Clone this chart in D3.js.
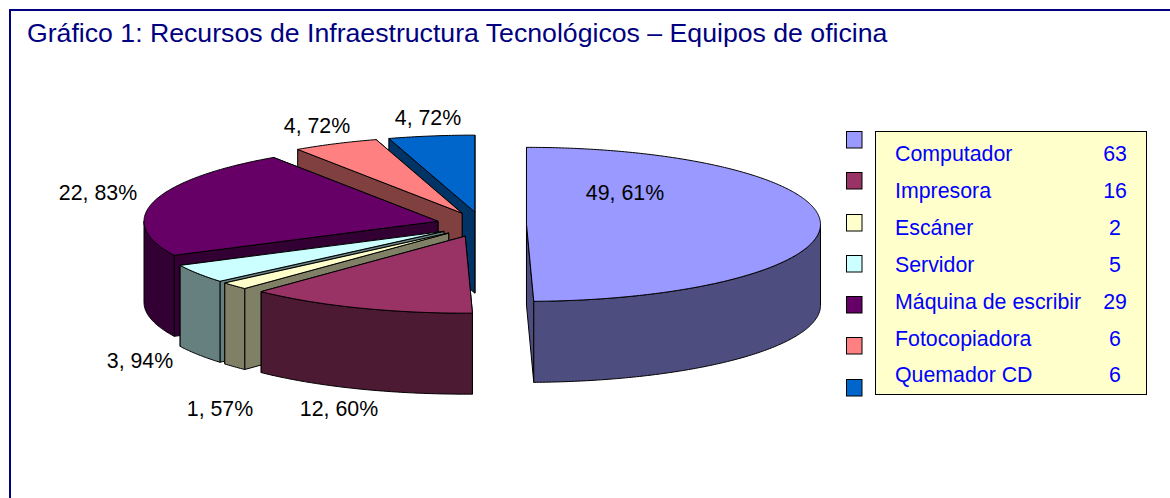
<!DOCTYPE html>
<html><head><meta charset="utf-8">
<script src="https://cdn.jsdelivr.net/npm/d3@7/dist/d3.min.js"></script>
<style>html,body{margin:0;padding:0;background:#fff}svg{display:block}text{font-family:"Liberation Sans",Arial,sans-serif}</style>
</head><body><svg id="c" width="1170" height="498"></svg>
<script>
const title = "Gráfico 1: Recursos de Infraestructura Tecnológicos – Equipos de oficina";
const categories = ["Computador","Impresora","Escáner","Servidor","Máquina de escribir","Fotocopiadora","Quemador CD"];
const counts = [63,16,2,5,29,6,6];
const percentLabels = ["49, 61%","12, 60%","1, 57%","3, 94%","22, 83%","4, 72%","4, 72%"];
const colors = ["#9999FF","#993366","#FFFFCC","#CCFFFF","#660066","#FF8080","#0066CC"];

const W=1170,H=498;
const svg=d3.select("#c");
const frame=svg.append("g");
frame.append("path").attr("d",`M10,${H}V10H${W}`).attr("fill","none").attr("stroke","#000080").attr("stroke-width",2);
svg.append("text").attr("x",27).attr("y",42).attr("font-size",26.67).attr("fill","#000080").text(title);

// pie geometry
const cx=481.5,cy=224.5,rx=294,ry=77,depth=81,explodeX=45,explodeY=12.5;
const arcs=d3.pie().sort(null).value(d=>d)(counts);
const px=d3.scaleLinear().domain([-1,1]).range([-rx,rx]);
const py=d3.scaleLinear().domain([-1,1]).range([-ry,ry]);
const dark=c=>{const r=d3.rgb(c);return d3.rgb(r.r/2,r.g/2,r.b/2).formatHex();};
const line=d3.line();
const pt=(o,a,z=0)=>[o[0]+px(Math.sin(a)),o[1]-py(Math.cos(a))+z];
function rim(o,a0,a1,z){
  const n=Math.max(2,Math.ceil((a1-a0)/0.01)),out=[];
  d3.range(n+1).forEach(i=>out.push(pt(o,a0+(a1-a0)*i/n,z)));
  return out;
}
const order=[6,5,4,3,2,1,0];
const pieG=svg.append("g").attr("stroke","#000").attr("stroke-width",1).attr("stroke-linejoin","round");
order.forEach(i=>{
  const d=arcs[i],mid=(d.startAngle+d.endAngle)/2;
  const o=[cx+explodeX*Math.sin(mid),cy-explodeY*Math.cos(mid)];
  const g=pieG.append("g"),side=dark(colors[i]);
  [d.endAngle,d.startAngle].forEach(a=>{
    const p=pt(o,a),q=pt(o,a,depth);
    g.append("path").attr("d",line([o,p,q,[o[0],o[1]+depth]])+"Z").attr("fill",side);
  });
  const a0=Math.max(d.startAngle,Math.PI/2),a1=Math.min(d.endAngle,3*Math.PI/2);
  if(a1>a0){
    const top=rim(o,a0,a1,0),bot=rim(o,a0,a1,depth).reverse();
    g.append("path").attr("d",line(top.concat(bot))+"Z").attr("fill",side);
  }
  g.append("path").attr("d",line([o].concat(rim(o,d.startAngle,d.endAngle,0)))+"Z").attr("fill",colors[i]);
});

// value labels
const labelPos=[[625,193],[339,409],[220,409],[140,361],[98,193],[317,126],[428,118]];
svg.append("g").selectAll("text").data(percentLabels).join("text")
  .attr("x",(d,i)=>labelPos[i][0]).attr("y",(d,i)=>labelPos[i][1]).attr("dy","0.35em")
  .attr("text-anchor","middle").attr("font-size",21.33).attr("fill","#000").text(d=>d);

// legend
const swatchY=d3.scalePoint().domain(categories).range([139.5,387]);
svg.append("g").selectAll("rect").data(categories).join("rect")
  .attr("x",846.5).attr("y",d=>Math.round(swatchY(d)-8.5)+0.5).attr("width",15.5).attr("height",16.5)
  .attr("fill",(d,i)=>colors[i]).attr("stroke","#000").attr("stroke-width",1);
svg.append("rect").attr("x",875.5).attr("y",131.5).attr("width",271).attr("height",263)
  .attr("fill","#FFFFCC").attr("stroke","#000").attr("stroke-width",1);
const rowY=d3.scalePoint().domain(categories).range([154,375]);
const legend=svg.append("g").attr("fill","#0000FF").attr("font-size",21.33);
legend.selectAll("text.n").data(categories).join("text").attr("class","n")
  .attr("x",895).attr("y",d=>rowY(d)).attr("dy","0.35em").text(d=>d);
legend.selectAll("text.v").data(counts).join("text").attr("class","v")
  .attr("x",1115).attr("y",(d,i)=>rowY(categories[i])).attr("dy","0.35em").attr("text-anchor","middle").text(d=>d);
</script></body></html>
